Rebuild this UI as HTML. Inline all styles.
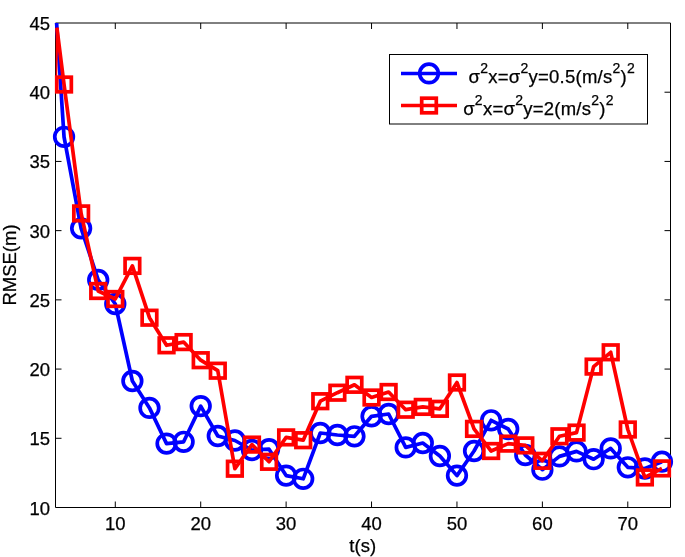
<!DOCTYPE html>
<html><head><meta charset="utf-8"><title>RMSE plot</title>
<style>
html,body{margin:0;padding:0;background:#fff;}
body{width:685px;height:557px;overflow:hidden;}
svg{display:block;}
text{font-family:"Liberation Sans",Arial,Helvetica,sans-serif;fill:#000;stroke:#000;stroke-width:0.25px;}
</style></head><body>
<svg width="685" height="557" viewBox="0 0 685 557">
<rect x="0" y="0" width="685" height="557" fill="#fff"/>

<path d="M115.29,507.5V501.5M115.29,23.0V29.0M200.71,507.5V501.5M200.71,23.0V29.0M286.12,507.5V501.5M286.12,23.0V29.0M371.54,507.5V501.5M371.54,23.0V29.0M456.96,507.5V501.5M456.96,23.0V29.0M542.38,507.5V501.5M542.38,23.0V29.0M627.79,507.5V501.5M627.79,23.0V29.0M55.5,438.29H61.5M670.5,438.29H664.5M55.5,369.07H61.5M670.5,369.07H664.5M55.5,299.86H61.5M670.5,299.86H664.5M55.5,230.64H61.5M670.5,230.64H664.5M55.5,161.43H61.5M670.5,161.43H664.5M55.5,92.21H61.5M670.5,92.21H664.5" stroke="#000" stroke-width="1" fill="none"/>
<path d="M55.5,23.0H670.5V507.5H55.5Z" fill="none" stroke="#000" stroke-width="1"/>
<text x="115.3" y="530" font-size="18.5" text-anchor="middle">10</text>
<text x="200.7" y="530" font-size="18.5" text-anchor="middle">20</text>
<text x="286.1" y="530" font-size="18.5" text-anchor="middle">30</text>
<text x="371.5" y="530" font-size="18.5" text-anchor="middle">40</text>
<text x="457.0" y="530" font-size="18.5" text-anchor="middle">50</text>
<text x="542.4" y="530" font-size="18.5" text-anchor="middle">60</text>
<text x="627.8" y="530" font-size="18.5" text-anchor="middle">70</text>
<text x="50" y="514.5" font-size="18.5" text-anchor="end">10</text>
<text x="50" y="445.3" font-size="18.5" text-anchor="end">15</text>
<text x="50" y="376.1" font-size="18.5" text-anchor="end">20</text>
<text x="50" y="306.9" font-size="18.5" text-anchor="end">25</text>
<text x="50" y="237.6" font-size="18.5" text-anchor="end">30</text>
<text x="50" y="168.4" font-size="18.5" text-anchor="end">35</text>
<text x="50" y="99.2" font-size="18.5" text-anchor="end">40</text>
<text x="50" y="30.0" font-size="18.5" text-anchor="end">45</text>
<text x="362.7" y="552.1" font-size="18.5" text-anchor="middle">t(s)</text>
<text transform="translate(15.8,265) rotate(-90)" font-size="18.5" text-anchor="middle">RMSE(m)</text>
<g fill="none" stroke-linejoin="round">
<polyline points="56.6,23.0 64.04,136.80 81.12,228.30 98.21,279.90 115.29,304.00 132.38,381.00 149.46,407.90 166.54,443.60 183.62,441.80 200.71,406.10 217.79,436.00 234.88,440.50 251.96,450.00 269.04,449.20 286.12,475.60 303.21,478.80 320.29,433.00 337.38,435.00 354.46,436.30 371.54,416.30 388.62,414.00 405.71,447.40 422.79,443.00 439.88,456.00 456.96,475.60 474.04,451.00 491.12,420.30 508.21,429.00 525.29,455.00 542.38,469.70 559.46,456.40 576.54,451.40 593.62,459.20 610.71,448.40 627.79,467.30 644.88,468.50 661.96,461.70" stroke="#0000ff" stroke-width="3.7"/>
<circle cx="64.04" cy="136.80" r="9.3" stroke="#0000ff" stroke-width="3.7"/>
<circle cx="81.12" cy="228.30" r="9.3" stroke="#0000ff" stroke-width="3.7"/>
<circle cx="98.21" cy="279.90" r="9.3" stroke="#0000ff" stroke-width="3.7"/>
<circle cx="115.29" cy="304.00" r="9.3" stroke="#0000ff" stroke-width="3.7"/>
<circle cx="132.38" cy="381.00" r="9.3" stroke="#0000ff" stroke-width="3.7"/>
<circle cx="149.46" cy="407.90" r="9.3" stroke="#0000ff" stroke-width="3.7"/>
<circle cx="166.54" cy="443.60" r="9.3" stroke="#0000ff" stroke-width="3.7"/>
<circle cx="183.62" cy="441.80" r="9.3" stroke="#0000ff" stroke-width="3.7"/>
<circle cx="200.71" cy="406.10" r="9.3" stroke="#0000ff" stroke-width="3.7"/>
<circle cx="217.79" cy="436.00" r="9.3" stroke="#0000ff" stroke-width="3.7"/>
<circle cx="234.88" cy="440.50" r="9.3" stroke="#0000ff" stroke-width="3.7"/>
<circle cx="251.96" cy="450.00" r="9.3" stroke="#0000ff" stroke-width="3.7"/>
<circle cx="269.04" cy="449.20" r="9.3" stroke="#0000ff" stroke-width="3.7"/>
<circle cx="286.12" cy="475.60" r="9.3" stroke="#0000ff" stroke-width="3.7"/>
<circle cx="303.21" cy="478.80" r="9.3" stroke="#0000ff" stroke-width="3.7"/>
<circle cx="320.29" cy="433.00" r="9.3" stroke="#0000ff" stroke-width="3.7"/>
<circle cx="337.38" cy="435.00" r="9.3" stroke="#0000ff" stroke-width="3.7"/>
<circle cx="354.46" cy="436.30" r="9.3" stroke="#0000ff" stroke-width="3.7"/>
<circle cx="371.54" cy="416.30" r="9.3" stroke="#0000ff" stroke-width="3.7"/>
<circle cx="388.62" cy="414.00" r="9.3" stroke="#0000ff" stroke-width="3.7"/>
<circle cx="405.71" cy="447.40" r="9.3" stroke="#0000ff" stroke-width="3.7"/>
<circle cx="422.79" cy="443.00" r="9.3" stroke="#0000ff" stroke-width="3.7"/>
<circle cx="439.88" cy="456.00" r="9.3" stroke="#0000ff" stroke-width="3.7"/>
<circle cx="456.96" cy="475.60" r="9.3" stroke="#0000ff" stroke-width="3.7"/>
<circle cx="474.04" cy="451.00" r="9.3" stroke="#0000ff" stroke-width="3.7"/>
<circle cx="491.12" cy="420.30" r="9.3" stroke="#0000ff" stroke-width="3.7"/>
<circle cx="508.21" cy="429.00" r="9.3" stroke="#0000ff" stroke-width="3.7"/>
<circle cx="525.29" cy="455.00" r="9.3" stroke="#0000ff" stroke-width="3.7"/>
<circle cx="542.38" cy="469.70" r="9.3" stroke="#0000ff" stroke-width="3.7"/>
<circle cx="559.46" cy="456.40" r="9.3" stroke="#0000ff" stroke-width="3.7"/>
<circle cx="576.54" cy="451.40" r="9.3" stroke="#0000ff" stroke-width="3.7"/>
<circle cx="593.62" cy="459.20" r="9.3" stroke="#0000ff" stroke-width="3.7"/>
<circle cx="610.71" cy="448.40" r="9.3" stroke="#0000ff" stroke-width="3.7"/>
<circle cx="627.79" cy="467.30" r="9.3" stroke="#0000ff" stroke-width="3.7"/>
<circle cx="644.88" cy="468.50" r="9.3" stroke="#0000ff" stroke-width="3.7"/>
<circle cx="661.96" cy="461.70" r="9.3" stroke="#0000ff" stroke-width="3.7"/>
<polyline points="56.9,27.8 64.04,84.50 81.12,213.40 98.21,291.00 115.29,299.00 132.38,265.90 149.46,317.70 166.54,345.30 183.62,342.10 200.71,360.20 217.79,370.70 234.88,468.70 251.96,444.60 269.04,461.80 286.12,437.40 303.21,440.20 320.29,401.20 337.38,392.70 354.46,384.80 371.54,397.50 388.62,392.00 405.71,409.70 422.79,406.90 439.88,408.80 456.96,382.50 474.04,428.90 491.12,451.00 508.21,443.60 525.29,445.40 542.38,460.80 559.46,436.30 576.54,432.60 593.62,366.60 610.71,352.30 627.79,429.50 644.88,477.40 661.96,468.40" stroke="#ff0000" stroke-width="3.7"/>
<path d="M55.7,27.8L58.6,27.8L57.2,76L55.7,76Z" fill="#ff0000" stroke="none"/>
<rect x="56.74" y="77.20" width="14.6" height="14.6" stroke="#ff0000" stroke-width="3.7" stroke-linejoin="miter"/>
<rect x="73.83" y="206.10" width="14.6" height="14.6" stroke="#ff0000" stroke-width="3.7" stroke-linejoin="miter"/>
<rect x="90.91" y="283.70" width="14.6" height="14.6" stroke="#ff0000" stroke-width="3.7" stroke-linejoin="miter"/>
<rect x="107.99" y="291.70" width="14.6" height="14.6" stroke="#ff0000" stroke-width="3.7" stroke-linejoin="miter"/>
<rect x="125.08" y="258.60" width="14.6" height="14.6" stroke="#ff0000" stroke-width="3.7" stroke-linejoin="miter"/>
<rect x="142.16" y="310.40" width="14.6" height="14.6" stroke="#ff0000" stroke-width="3.7" stroke-linejoin="miter"/>
<rect x="159.24" y="338.00" width="14.6" height="14.6" stroke="#ff0000" stroke-width="3.7" stroke-linejoin="miter"/>
<rect x="176.32" y="334.80" width="14.6" height="14.6" stroke="#ff0000" stroke-width="3.7" stroke-linejoin="miter"/>
<rect x="193.41" y="352.90" width="14.6" height="14.6" stroke="#ff0000" stroke-width="3.7" stroke-linejoin="miter"/>
<rect x="210.49" y="363.40" width="14.6" height="14.6" stroke="#ff0000" stroke-width="3.7" stroke-linejoin="miter"/>
<rect x="227.57" y="461.40" width="14.6" height="14.6" stroke="#ff0000" stroke-width="3.7" stroke-linejoin="miter"/>
<rect x="244.66" y="437.30" width="14.6" height="14.6" stroke="#ff0000" stroke-width="3.7" stroke-linejoin="miter"/>
<rect x="261.74" y="454.50" width="14.6" height="14.6" stroke="#ff0000" stroke-width="3.7" stroke-linejoin="miter"/>
<rect x="278.82" y="430.10" width="14.6" height="14.6" stroke="#ff0000" stroke-width="3.7" stroke-linejoin="miter"/>
<rect x="295.91" y="432.90" width="14.6" height="14.6" stroke="#ff0000" stroke-width="3.7" stroke-linejoin="miter"/>
<rect x="312.99" y="393.90" width="14.6" height="14.6" stroke="#ff0000" stroke-width="3.7" stroke-linejoin="miter"/>
<rect x="330.07" y="385.40" width="14.6" height="14.6" stroke="#ff0000" stroke-width="3.7" stroke-linejoin="miter"/>
<rect x="347.16" y="377.50" width="14.6" height="14.6" stroke="#ff0000" stroke-width="3.7" stroke-linejoin="miter"/>
<rect x="364.24" y="390.20" width="14.6" height="14.6" stroke="#ff0000" stroke-width="3.7" stroke-linejoin="miter"/>
<rect x="381.32" y="384.70" width="14.6" height="14.6" stroke="#ff0000" stroke-width="3.7" stroke-linejoin="miter"/>
<rect x="398.41" y="402.40" width="14.6" height="14.6" stroke="#ff0000" stroke-width="3.7" stroke-linejoin="miter"/>
<rect x="415.49" y="399.60" width="14.6" height="14.6" stroke="#ff0000" stroke-width="3.7" stroke-linejoin="miter"/>
<rect x="432.57" y="401.50" width="14.6" height="14.6" stroke="#ff0000" stroke-width="3.7" stroke-linejoin="miter"/>
<rect x="449.66" y="375.20" width="14.6" height="14.6" stroke="#ff0000" stroke-width="3.7" stroke-linejoin="miter"/>
<rect x="466.74" y="421.60" width="14.6" height="14.6" stroke="#ff0000" stroke-width="3.7" stroke-linejoin="miter"/>
<rect x="483.82" y="443.70" width="14.6" height="14.6" stroke="#ff0000" stroke-width="3.7" stroke-linejoin="miter"/>
<rect x="500.91" y="436.30" width="14.6" height="14.6" stroke="#ff0000" stroke-width="3.7" stroke-linejoin="miter"/>
<rect x="517.99" y="438.10" width="14.6" height="14.6" stroke="#ff0000" stroke-width="3.7" stroke-linejoin="miter"/>
<rect x="535.08" y="453.50" width="14.6" height="14.6" stroke="#ff0000" stroke-width="3.7" stroke-linejoin="miter"/>
<rect x="552.16" y="429.00" width="14.6" height="14.6" stroke="#ff0000" stroke-width="3.7" stroke-linejoin="miter"/>
<rect x="569.24" y="425.30" width="14.6" height="14.6" stroke="#ff0000" stroke-width="3.7" stroke-linejoin="miter"/>
<rect x="586.33" y="359.30" width="14.6" height="14.6" stroke="#ff0000" stroke-width="3.7" stroke-linejoin="miter"/>
<rect x="603.41" y="345.00" width="14.6" height="14.6" stroke="#ff0000" stroke-width="3.7" stroke-linejoin="miter"/>
<rect x="620.49" y="422.20" width="14.6" height="14.6" stroke="#ff0000" stroke-width="3.7" stroke-linejoin="miter"/>
<rect x="637.58" y="470.10" width="14.6" height="14.6" stroke="#ff0000" stroke-width="3.7" stroke-linejoin="miter"/>
<rect x="654.66" y="461.10" width="14.6" height="14.6" stroke="#ff0000" stroke-width="3.7" stroke-linejoin="miter"/>
</g>
<rect x="389.5" y="54.5" width="258.0" height="69.5" fill="#fff" stroke="#000" stroke-width="1"/>
<line x1="401" y1="73.5" x2="457" y2="73.5" stroke="#0000ff" stroke-width="3.7"/>
<circle cx="429" cy="73.4" r="9.3" fill="none" stroke="#0000ff" stroke-width="3.7"/>
<line x1="401" y1="105.5" x2="457" y2="105.5" stroke="#ff0000" stroke-width="3.7"/>
<rect x="421.7" y="98.2" width="14.6" height="14.6" fill="none" stroke="#ff0000" stroke-width="3.7" stroke-linejoin="miter"/>
<text x="468.5" y="83" font-size="18.5" letter-spacing="0.25">σ<tspan font-size="14" dy="-10">2</tspan><tspan dy="10">x=σ</tspan><tspan font-size="14" dy="-10">2</tspan><tspan dy="10">y=0.5(m/s</tspan><tspan font-size="14" dy="-10">2</tspan><tspan dy="10">)</tspan><tspan font-size="14" dy="-10">2</tspan></text>
<text x="463.2" y="115.2" font-size="18.5" letter-spacing="0.25">σ<tspan font-size="14" dy="-10">2</tspan><tspan dy="10">x=σ</tspan><tspan font-size="14" dy="-10">2</tspan><tspan dy="10">y=2(m/s</tspan><tspan font-size="14" dy="-10">2</tspan><tspan dy="10">)</tspan><tspan font-size="14" dy="-10">2</tspan></text>
</svg>
</body></html>
